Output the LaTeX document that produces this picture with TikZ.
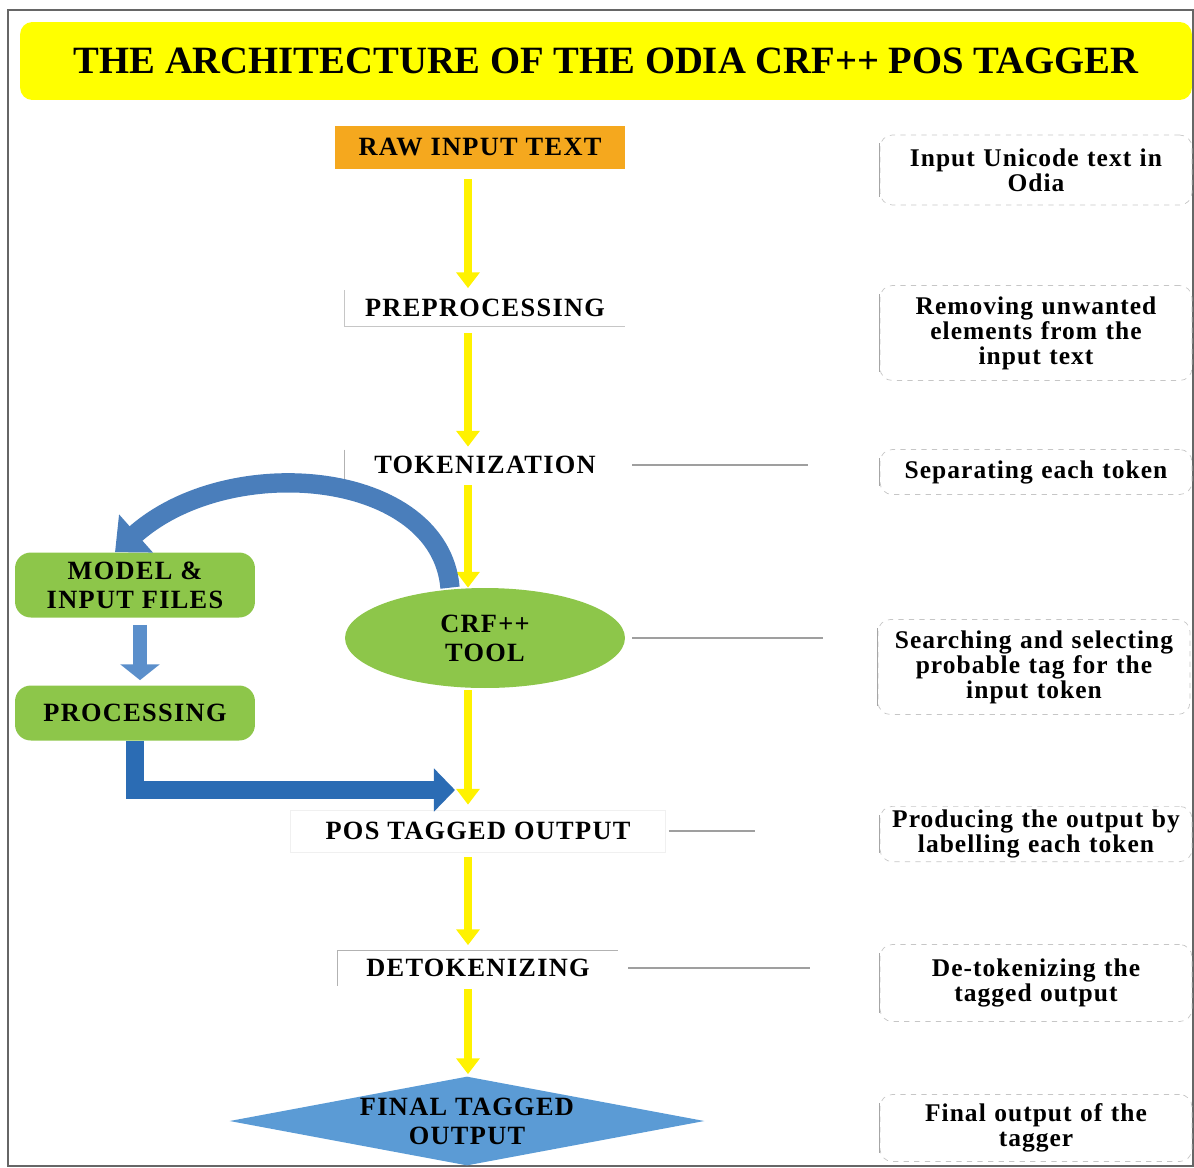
\documentclass[tikz,border=0pt]{standalone}
\usepackage{fontspec}
\setmainfont{Liberation Serif}
\usetikzlibrary{shapes.geometric,arrows.meta}
\definecolor{titleyellow}{HTML}{FFFF00}
\definecolor{rawcolor}{HTML}{F5A81E}
\definecolor{crfgreen}{HTML}{8DC64A}
\definecolor{arcblue}{HTML}{4A7EBB}
\definecolor{downblue}{HTML}{5B8FCB}
\definecolor{elbowblue}{HTML}{2B6CB4}
\definecolor{finalblue}{HTML}{5B9BD5}
\newcommand{\stagefont}{\bfseries\fontsize{15}{16.5}\selectfont\addfontfeature{LetterSpace=5}}
\newcommand{\notefont}{\bfseries\fontsize{14.5}{14.2}\selectfont\addfontfeature{LetterSpace=4}}

\begin{document}
\begin{tikzpicture}
    [
    x=0.02cm, y=-0.02cm
    , stage/.style = {minimum width=5.6cm, minimum height=0.7cm, inner sep=0pt, font=\stagefont}
    , note/.style = {draw=gray!45, dashed, rounded corners=7pt, minimum width=6.24cm, text width=6.1cm, align=center, inner sep=2pt, font=\notefont}
    , greenbox/.style = {fill=crfgreen, rounded corners=9pt, minimum width=4.8cm, align=center, font=\stagefont}
    , yarrow/.style = {draw=yellow, line width=5pt, -{Triangle[width=13pt,length=9pt]}}
    , link/.style = {draw=gray!75, line width=0.6pt}
    ]
\useasboundingbox (0,0) rectangle (1194,1167);
\draw[gray!80!black, line width=0.8pt] (8,10) rectangle (1193,1166);

% title
\node[fill=titleyellow, rounded corners=7pt, minimum width=23.44cm, minimum height=1.56cm,
      font=\bfseries\fontsize{22}{26}\selectfont] (title) at (606,61)
      {THE ARCHITECTURE OF THE ODIA CRF++ POS TAGGER};

% main column
\node[stage, fill=rawcolor, minimum width=5.8cm, minimum height=0.86cm] (raw) at (480,147) {RAW INPUT TEXT};
\node[stage] (pre) at (485,308) {PREPROCESSING};
\node[stage, minimum height=0.6cm] (tok) at (485,465) {TOKENIZATION};
\node[ellipse, fill=crfgreen, minimum width=5.6cm, minimum height=2cm, align=center, font=\stagefont] (crf) at (485,638) {CRF++\\TOOL};
\node[stage, draw=gray!12, minimum width=7.5cm, minimum height=0.84cm] (pos) at (478,831) {POS TAGGED OUTPUT};
\node[stage] (detok) at (478,968) {DETOKENIZING};
\node[diamond, fill=finalblue, aspect=5.3, minimum width=9.5cm, minimum height=1.78cm, inner sep=0pt,
      align=center, font=\stagefont] (final) at (467,1121) {FINAL TAGGED\\OUTPUT};

\draw[gray!45] (pre.north west) |- (pre.south east);
\draw[gray!60] (tok.north west) -- (tok.south west);
\draw[gray!60] (detok.south west) |- (detok.north east);

% left branch
\node[greenbox, minimum height=1.3cm] (model) at (135,585) {MODEL \&\\INPUT FILES};
\node[greenbox, minimum height=1.1cm] (proc) at (135,713) {PROCESSING};
\coordinate (procin) at (455,790);

% notes
\node[note, minimum height=1.4cm] (n1) at (1036,170) {Input Unicode text in\\Odia};
\node[note, minimum height=1.9cm] (n2) at (1036,333) {Removing unwanted\\elements from the\\input text};
\node[note, minimum height=0.9cm] (n3) at (1036,472) {Separating each token};
\node[note, minimum height=1.9cm] (n4) at (1034,667) {Searching and selecting\\probable tag for the\\input token};
\node[note, minimum height=0.96cm] (n5) at (1036,834) {Producing the output by\\labelling each token};
\node[note, minimum height=1.54cm] (n6) at (1036,983) {De-tokenizing the\\tagged output};
\node[note, minimum height=1.34cm] (n7) at (1036,1128) {Final output of the\\tagger};
\foreach \n in {n1,n2,n3,n4,n5,n6,n7}
  \draw[gray!70, line width=0.7pt] ([yshift=-5pt]\n.north west) -- ([yshift=5pt]\n.south west);

% yellow flow
\coordinate (col) at (468,0);
\draw[yarrow, shorten <=0.2cm, shorten >=0.04cm] (raw.south -| col) -- (pre.north -| col);
\draw[yarrow, shorten <=0.14cm, shorten >=0.06cm] (pre.south -| col) -- (tok.north -| col);
\draw[yarrow, shorten <=0.1cm] (tok.south -| col) -- (crf.north -| col);
\draw[yarrow, shorten <=0.04cm, shorten >=0.1cm] (crf.south -| col) -- (pos.north -| col);
\draw[yarrow, shorten <=0.1cm, shorten >=0.1cm] (pos.south -| col) -- (detok.north -| col);
\draw[yarrow, shorten <=0.06cm, shorten >=0.04cm] (detok.south -| col) -- (final.north -| col);

% blue arrows
\draw[arcblue, line width=11pt, -{Triangle[width=28pt,length=16pt]}]
  ([xshift=-0.7cm]crf.north) .. controls (440,470) and (230,450) .. ([xshift=-0.4cm]model.north);
\draw[downblue, line width=8pt, -{Triangle[width=22pt,length=9pt]}, shorten <=0.14cm, shorten >=0.1cm]
  ([xshift=0.1cm]model.south) -- ([xshift=0.1cm]proc.north);
\draw[elbowblue, line width=10pt, -{Triangle[width=24pt,length=12pt]}]
  (proc.south) |- (procin);

% side links
\draw[link, shorten <=0.14cm, shorten >=1.44cm] (tok.east) -- (tok.east -| n3.west);
\draw[link, shorten <=0.14cm, shorten >=1.1cm] (crf.east) -- (crf.east -| n4.west);
\draw[link, shorten <=0.06cm, shorten >=2.5cm] (pos.east) -- (pos.east -| n5.west);
\draw[link, shorten <=0.2cm, shorten >=1.4cm] (detok.east) -- (detok.east -| n6.west);
\end{tikzpicture}
\end{document}
